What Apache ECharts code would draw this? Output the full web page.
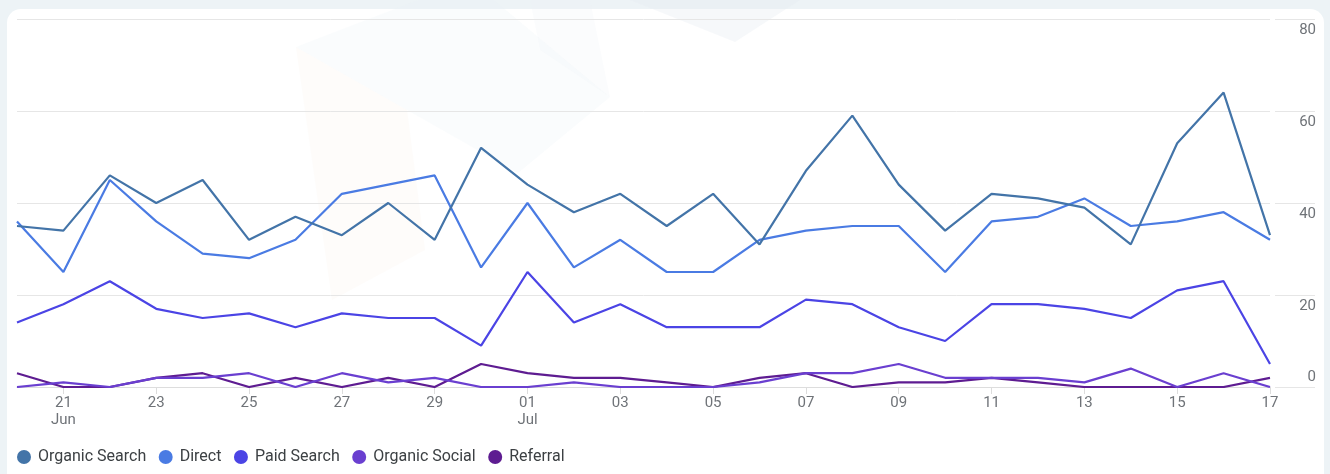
<!DOCTYPE html>
<html>
<head>
<meta charset="utf-8">
<script src="https://cdn.jsdelivr.net/npm/echarts@6/dist/echarts.min.js"></script>
<style>
  html, body { margin: 0; padding: 0; width: 1330px; height: 474px; overflow: hidden; background: #edf3f6; }
  #card { position: absolute; left: 7px; top: 9px; width: 1317px; height: 480px; background: #ffffff; border-radius: 14px; }
  #chart { position: absolute; left: 0; top: 0; width: 1330px; height: 474px; }
</style>
</head>
<body>
<div id="card"></div>
<div id="chart"></div>
<script>
const categories = [
  '2024-06-20','2024-06-21','2024-06-22','2024-06-23','2024-06-24','2024-06-25','2024-06-26',
  '2024-06-27','2024-06-28','2024-06-29','2024-06-30','2024-07-01','2024-07-02','2024-07-03',
  '2024-07-04','2024-07-05','2024-07-06','2024-07-07','2024-07-08','2024-07-09','2024-07-10',
  '2024-07-11','2024-07-12','2024-07-13','2024-07-14','2024-07-15','2024-07-16','2024-07-17'
];
const monthNames = ['Jan','Feb','Mar','Apr','May','Jun','Jul','Aug','Sep','Oct','Nov','Dec'];
const seriesNames = ['Organic Search','Direct','Paid Search','Organic Social','Referral'];
const organicSearch = [35,34,46,40,45,32,37,33,40,32,52,44,38,42,35,42,31,47,59,44,34,42,41,39,31,53,64,33];
const direct        = [36,25,45,36,29,28,32,42,44,46,26,40,26,32,25,25,32,34,35,35,25,36,37,41,35,36,38,32];
const paidSearch    = [14,18,23,17,15,16,13,16,15,15,9,25,14,18,13,13,13,19,18,13,10,18,18,17,15,21,23,5];
const organicSocial = [0,1,0,2,2,3,0,3,1,2,0,0,1,0,0,0,1,3,3,5,2,2,2,1,4,0,3,0];
const referral      = [3,0,0,2,3,0,2,0,2,0,5,3,2,2,1,0,2,3,0,1,1,2,1,0,0,0,0,2];
const yTicks = [0, 20, 40, 60, 80];

const colors = ['#4374a8', '#4a7be3', '#4b44e5', '#6a3fd0', '#5e1c91'];
const seriesData = [organicSearch, direct, paidSearch, organicSocial, referral];

const chart = echarts.init(document.getElementById('chart'), null, { renderer: 'canvas' });

function xLabel(val, idx) {
  const parts = val.split('-');
  const m = parseInt(parts[1], 10) - 1;
  const d = parts[2];
  const prevIdx = idx - 2;
  const prev = prevIdx >= 0 ? categories[prevIdx].split('-')[1] : null;
  if (idx === 1 || (prev !== null && prev !== parts[1])) {
    return d + '\n' + monthNames[m];
  }
  return d;
}

const option = {
  backgroundColor: 'transparent',
  animation: false,
  color: colors,
  graphic: [
    { type: 'polygon', z: -10, silent: true,
      shape: { points: [[296,47],[407,110],[425,250],[332,300]] },
      style: { fill: 'rgba(252,244,236,0.25)' } },
    { type: 'polygon', z: -10, silent: true,
      shape: { points: [[296,47],[470,-20],[610,97],[518,173]] },
      style: { fill: 'rgba(232,242,246,0.22)' } },
    { type: 'polygon', z: -10, silent: true,
      shape: { points: [[530,0],[590,0],[610,97],[540,50]] },
      style: { fill: 'rgba(236,241,246,0.22)' } },
    { type: 'polygon', z: -10, silent: true,
      shape: { points: [[630,0],[800,0],[735,42]] },
      style: { fill: 'rgba(228,236,242,0.35)' } }
  ],
  grid: { left: 17, right: 60, top: 19, bottom: 87, containLabel: false },
  legend: {
    left: 12, top: 443,
    icon: 'circle',
    itemWidth: 14, itemHeight: 14,
    itemGap: 12.5,
    textStyle: { fontFamily: 'Roboto', fontSize: 16, color: '#3c4043', lineHeight: 18, padding: [0,0,0,2] },
    data: seriesNames
  },
  xAxis: {
    type: 'category',
    data: categories,
    boundaryGap: false,
    axisLine: { show: true, lineStyle: { color: '#dddddd', width: 1 } },
    axisTick: { show: true, length: 7, lineStyle: { color: '#dddddd' }, interval: function (i) { return i % 2 === 1; } },
    axisLabel: {
      interval: function (i) { return i % 2 === 1; },
      formatter: xLabel,
      fontFamily: 'Roboto', fontSize: 15, color: '#6f7378',
      lineHeight: 17, margin: 8, align: 'center'
    },
    splitLine: { show: false }
  },
  yAxis: {
    type: 'value',
    position: 'right',
    min: 0, max: 80, interval: 20,
    offset: 5,
    axisLine: { show: false },
    axisTick: { show: true, length: 40, lineStyle: { color: '#e6e6e6' } },
    splitLine: { show: true, lineStyle: { color: '#e6e6e6', width: 1 } },
    axisLabel: {
      margin: 41,
      align: 'right',
      fontFamily: 'Roboto', fontSize: 15, color: '#6f7378',
      formatter: function (v) { return v === 0 ? '{b|' + v + '}' : '{a|' + v + '}'; },
      rich: {
        a: { fontFamily: 'Roboto', fontSize: 15, color: '#6f7378', lineHeight: 17, padding: [22,0,0,0] },
        b: { fontFamily: 'Roboto', fontSize: 15, color: '#6f7378', lineHeight: 17, padding: [0,0,20,0] }
      }
    }
  },
  series: seriesNames.map(function (name, i) {
    return {
      name: name,
      type: 'line',
      data: seriesData[i],
      showSymbol: false,
      symbol: 'circle',
      lineStyle: { width: 2.2, color: colors[i] },
      itemStyle: { color: colors[i] },
      z: 10 - i
    };
  })
};
chart.setOption(option);
</script>
</body>
</html>
